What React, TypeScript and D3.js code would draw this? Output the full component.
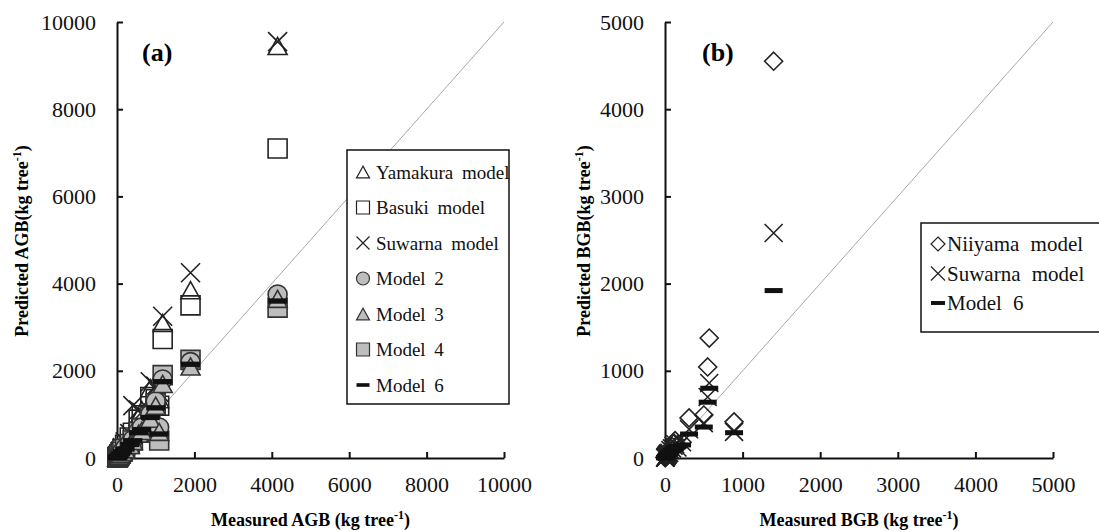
import React, { useEffect, useRef } from 'react';
import * as d3 from 'd3';

// panel (a): above-ground biomass, one entry per tree
const agbMeasured = [10, 20, 35, 60, 95, 140, 210, 330, 410, 560, 640, 860, 1000, 1090, 1180, 1900, 4150];
const yamakura = [12, 28, 50, 90, 150, 220, 340, 520, 650, 950, 1100, 1600, 1500, 1350, 3100, 3850, 9450];
const basuki = [11, 25, 45, 80, 130, 200, 300, 470, 580, 880, 980, 1400, 1350, 1200, 2730, 3500, 7100];
const suwarna = [14, 30, 55, 100, 160, 240, 370, 560, 1200, 1100, 1050, 1750, 1650, 1500, 3250, 4250, 9550];
const model2 = [10, 22, 38, 60, 100, 150, 220, 330, 420, 620, 700, 1000, 1300, 700, 1800, 2200, 3750];
const model3 = [9, 20, 34, 55, 95, 140, 200, 300, 390, 560, 620, 900, 1200, 600, 1700, 2100, 3650];
const model4 = [10, 21, 36, 58, 98, 145, 210, 320, 400, 600, 680, 950, 1250, 400, 1900, 2250, 3450];
const model6 = [10, 21, 35, 57, 96, 142, 205, 310, 395, 580, 650, 930, 1150, 550, 1750, 2150, 3600];

// panel (b): below-ground biomass
const bgbMeasured = [2, 4, 6, 8, 10, 14, 18, 22, 26, 30, 35, 45, 55, 70, 90, 110, 130, 160, 220, 310, 500, 550, 570, 890, 1400];
const niiyama = [3, 6, 9, 12, 15, 22, 27, 32, 40, 45, 55, 70, 75, 110, 130, 160, 200, 150, 180, 460, 493, 1044, 1376, 415, 4550];
const suwarnaBgb = [3, 5, 7, 10, 12, 18, 22, 26, 33, 38, 45, 55, 60, 90, 110, 140, 160, 120, 180, 330, 400, 700, 860, 300, 2580];
const model6Bgb = [2, 4, 6, 8, 10, 14, 18, 22, 26, 30, 35, 45, 50, 70, 85, 100, 120, 130, 150, 275, 355, 640, 800, 290, 1920];

const agbTicks = [0, 2000, 4000, 6000, 8000, 10000];
const bgbTicks = [0, 1000, 2000, 3000, 4000, 5000];

const FONT = "'Liberation Serif', Tinos, 'Times New Roman', serif";
const GRAY = '#bdbdbd';

// marker path generators, s = full width
const markers: Record<string, (s: number) => string> = {
  triangle: s => {
    const h = s * 0.9;
    return `M0,${-h / 2}L${s / 2},${h / 2}L${-s / 2},${h / 2}Z`;
  },
  square: s => `M${-s / 2},${-s / 2}h${s}v${s}h${-s}Z`,
  circle: s => d3.symbol().type(d3.symbolCircle).size(Math.PI * (s / 2) ** 2)() as string,
  cross: s => `M${-s / 2},${-s / 2}L${s / 2},${s / 2}M${s / 2},${-s / 2}L${-s / 2},${s / 2}`,
  diamond: s => `M0,${-s / 2}L${s / 2},0L0,${s / 2}L${-s / 2},0Z`,
  dash: s => `M${-s / 2},${-s * 0.14}h${s}v${s * 0.28}h${-s}Z`,
};

type Series = { name: string; values: number[]; shape: string; fill: string; stroke: string };

const agbSeries: Series[] = [
  { name: 'Yamakura model', values: yamakura, shape: 'triangle', fill: 'none', stroke: '#222' },
  { name: 'Basuki model', values: basuki, shape: 'square', fill: 'none', stroke: '#222' },
  { name: 'Suwarna model', values: suwarna, shape: 'cross', fill: 'none', stroke: '#222' },
  { name: 'Model 2', values: model2, shape: 'circle', fill: GRAY, stroke: '#333' },
  { name: 'Model 3', values: model3, shape: 'triangle', fill: GRAY, stroke: '#333' },
  { name: 'Model 4', values: model4, shape: 'square', fill: GRAY, stroke: '#333' },
  { name: 'Model 6', values: model6, shape: 'dash', fill: '#111', stroke: 'none' },
];
// draw order: gray squares below the other gray markers
const agbDrawOrder = [0, 1, 2, 5, 3, 4, 6];

const bgbSeries: Series[] = [
  { name: 'Niiyama model', values: niiyama, shape: 'diamond', fill: 'none', stroke: '#222' },
  { name: 'Suwarna model', values: suwarnaBgb, shape: 'cross', fill: 'none', stroke: '#222' },
  { name: 'Model 6', values: model6Bgb, shape: 'dash', fill: '#111', stroke: 'none' },
];

type Legend = {
  x: number; y: number; w: number; h: number; first: number; step: number;
  mx: number; tx: number; msize: number; font: number; gap: number;
};

function drawPanel(
  svg: d3.Selection<SVGSVGElement, unknown, null, undefined>,
  opt: {
    max: number; ticks: number[]; xRange: [number, number]; measured: number[];
    series: Series[]; order: number[]; size: number; label: string; labelX: number;
    xTitle: string; yTitle: string; yTitleX: number; legend: Legend;
  }
) {
  const x = d3.scaleLinear().domain([0, opt.max]).range(opt.xRange);
  const y = d3.scaleLinear().domain([0, opt.max]).range([458, 22]);
  const g = svg.append('g');

  // 1:1 line
  g.append('line')
    .attr('x1', x(0)).attr('y1', y(0))
    .attr('x2', x(opt.max)).attr('y2', y(opt.max))
    .attr('stroke', '#a8a8a8').attr('stroke-width', 1);

  const xAxis = g.append('g').attr('transform', `translate(0,${y(0)})`)
    .call(d3.axisBottom(x).tickValues(opt.ticks).tickFormat(d3.format('d'))
      .tickSizeInner(-6).tickSizeOuter(0).tickPadding(18));
  const yAxis = g.append('g').attr('transform', `translate(${x(0)},0)`)
    .call(d3.axisLeft(y).tickValues(opt.ticks).tickFormat(d3.format('d'))
      .tickSizeInner(-6).tickSizeOuter(0).tickPadding(21));
  [xAxis, yAxis].forEach(a => {
    a.attr('font-family', null).attr('font-size', 22);
    a.select('.domain').attr('stroke', '#111').attr('stroke-width', 2);
    a.selectAll('.tick line').attr('stroke', '#111').attr('stroke-width', 2);
    a.selectAll('.tick text').attr('fill', '#111');
  });

  // markers
  opt.order.forEach(i => {
    const s = opt.series[i];
    g.append('g').selectAll('path')
      .data(s.values.map((v, k) => [opt.measured[k], v]))
      .enter().append('path')
      .attr('transform', d => `translate(${x(d[0])},${y(d[1])})`)
      .attr('d', markers[s.shape](opt.size))
      .attr('fill', s.fill)
      .attr('stroke', s.stroke)
      .attr('stroke-width', 1.6);
  });

  // panel label
  g.append('text').attr('x', opt.labelX).attr('y', 61)
    .attr('font-weight', 'bold').attr('font-size', 26)
    .text(opt.label);

  // axis titles
  const xt = g.append('text')
    .attr('x', (opt.xRange[0] + opt.xRange[1]) / 2).attr('y', 526)
    .attr('text-anchor', 'middle')
    .attr('font-weight', 'bold').attr('font-size', 18);
  xt.append('tspan').text(opt.xTitle);
  xt.append('tspan').attr('font-size', 12).attr('dy', -7).text('-1');
  xt.append('tspan').attr('dy', 7).text(')');

  const yt = g.append('text')
    .attr('transform', `translate(${opt.yTitleX},241) rotate(-90)`)
    .attr('text-anchor', 'middle')
    .attr('font-weight', 'bold').attr('font-size', 18);
  yt.append('tspan').text(opt.yTitle);
  yt.append('tspan').attr('font-size', 12).attr('dy', -7).text('-1');
  yt.append('tspan').attr('dy', 7).text(')');

  // legend
  const L = opt.legend;
  const lg = g.append('g');
  lg.append('rect').attr('x', L.x).attr('y', L.y).attr('width', L.w).attr('height', L.h)
    .attr('fill', '#fff').attr('stroke', '#111').attr('stroke-width', 1.5);
  opt.series.forEach((s, i) => {
    const cy = L.first + i * L.step;
    lg.append('path').attr('transform', `translate(${L.mx},${cy})`)
      .attr('d', markers[s.shape](L.msize))
      .attr('fill', s.fill).attr('stroke', s.stroke).attr('stroke-width', 1.2);
    lg.append('text').attr('x', L.tx).attr('y', cy).attr('dy', '0.35em')
      .attr('font-size', L.font).attr('fill', '#111')
      .attr('word-spacing', L.gap).text(s.name);
  });
}

export default function App() {
  const ref = useRef<SVGSVGElement>(null);

  useEffect(() => {
    const svg = d3.select(ref.current as SVGSVGElement);
    svg.selectAll('*').remove();

    drawPanel(svg, {
      max: 10000, ticks: agbTicks, xRange: [117, 504], measured: agbMeasured,
      series: agbSeries, order: agbDrawOrder, size: 19, label: '(a)', labelX: 142,
      xTitle: 'Measured AGB (kg tree', yTitle: 'Predicted AGB(kg tree', yTitleX: 28,
      legend: { x: 347, y: 150, w: 162, h: 254, first: 172, step: 35.5, mx: 363, tx: 376, msize: 13, font: 19, gap: 4 },
    });

    drawPanel(svg, {
      max: 5000, ticks: bgbTicks, xRange: [665, 1053], measured: bgbMeasured,
      series: bgbSeries, order: [0, 1, 2], size: 18, label: '(b)', labelX: 702,
      xTitle: 'Measured BGB (kg tree', yTitle: 'Predicted BGB(kg tree', yTitleX: 590,
      legend: { x: 921, y: 223, w: 185, h: 109, first: 244, step: 29.5, mx: 938, tx: 947, msize: 14, font: 21, gap: 6 },
    });
  }, []);

  return (
    <svg
      ref={ref}
      width={1099}
      height={532}
      style={{ position: 'absolute', left: 0, top: 0, background: '#fff', fontFamily: FONT }}
    />
  );
}
